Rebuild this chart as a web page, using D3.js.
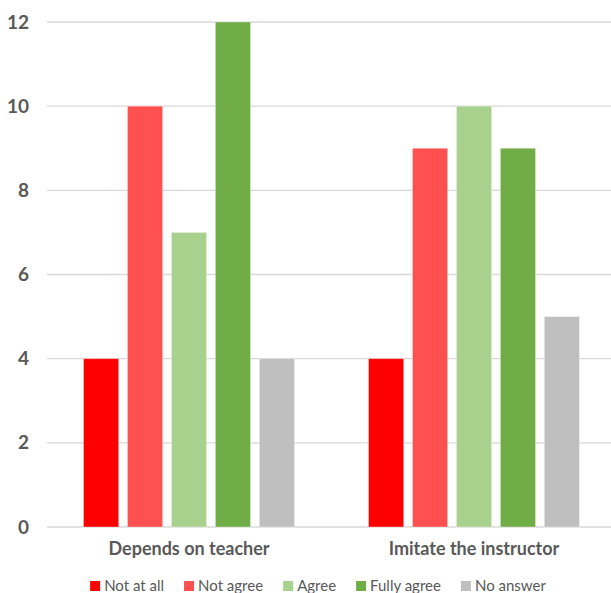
<!DOCTYPE html>
<html>
<head>
<meta charset="utf-8">
<script src="https://cdn.jsdelivr.net/npm/d3@7"></script>
<style>
  html, body { margin: 0; padding: 0; background: #fff; }
  svg { display: block; }
  text { font-family: Lato, "Open Sans", sans-serif; fill: #595959; }
</style>
</head>
<body>
<svg id="chart" width="611" height="593"></svg>
<script>
// Survey answers per statement
const categories = ["Depends on teacher", "Imitate the instructor"];
const series = ["Not at all", "Not agree", "Agree", "Fully agree", "No answer"];
const colors = ["#FF0000", "#FF5050", "#A9D18E", "#70AD47", "#BFBFBF"];
const valuesBySeries = [
  [4, 4],    // Not at all
  [10, 9],   // Not agree
  [7, 10],   // Agree
  [12, 9],   // Fully agree
  [4, 5]     // No answer
];
const yTicks = [0, 2, 4, 6, 8, 10, 12];

const svg = d3.select("#chart");
const W = 611;

const x0 = d3.scaleBand().domain(categories).range([46.5, 616.5]).paddingInner(0).paddingOuter(0);
const groupHalf = 105.5;
const x1 = d3.scaleBand().domain(series).range([-groupHalf, groupHalf]).paddingInner(0.2).paddingOuter(0);
const y = d3.scaleLinear().domain([0, 12]).range([527, 22]);

// gridlines
svg.append("g").selectAll("line").data(yTicks).join("line")
  .attr("x1", 47).attr("x2", W)
  .attr("y1", d => y(d)).attr("y2", d => y(d))
  .attr("stroke", "#D9D9D9").attr("stroke-width", 1.3);

// y axis labels
const yAxis = d3.axisLeft(y).tickValues(yTicks).tickSize(0).tickPadding(0);
const ya = svg.append("g").attr("transform", "translate(29,0)").call(yAxis);
ya.select(".domain").remove();
ya.selectAll("text")
  .attr("font-family", "Lato, 'Open Sans', sans-serif")
  .attr("font-size", 19).attr("font-weight", "bold").attr("fill", "#595959");

// bars
const rows = [];
series.forEach((s, si) => categories.forEach((c, ci) => rows.push({ s, c, v: valuesBySeries[si][ci], color: colors[si] })));
svg.append("g").selectAll("rect").data(rows).join("rect")
  .attr("x", d => x0(d.c) + x0.bandwidth() / 2 + x1(d.s))
  .attr("width", x1.bandwidth())
  .attr("y", d => y(d.v))
  .attr("height", d => y(0) - y(d.v))
  .attr("fill", d => d.color)
  .attr("stroke", "rgba(255,255,255,0.35)").attr("stroke-width", 1);

// category axis labels
const xAxis = d3.axisBottom(x0).tickSize(0).tickPadding(0);
const xa = svg.append("g").attr("transform", "translate(0,542)").call(xAxis);
xa.select(".domain").remove();
xa.selectAll("text")
  .attr("font-family", "Lato, 'Open Sans', sans-serif")
  .attr("font-size", 18).attr("font-weight", "bold").attr("fill", "#595959");

// legend
const legend = svg.append("g");
const items = legend.selectAll("g").data(series).join("g");
items.append("rect").attr("width", 10).attr("height", 10).attr("y", -10)
  .attr("fill", (d, i) => colors[i]);
items.append("text").attr("x", 14).attr("y", 0)
  .attr("font-size", 15).text(d => d);
let cx = 0;
const gap = 20;
items.each(function () {
  const w = this.querySelector("text").getComputedTextLength() + 14;
  d3.select(this).attr("transform", `translate(${cx},0)`);
  cx += w + gap;
});
const total = cx - gap;
legend.attr("transform", `translate(${318 - total / 2},591)`);
</script>
</body>
</html>
